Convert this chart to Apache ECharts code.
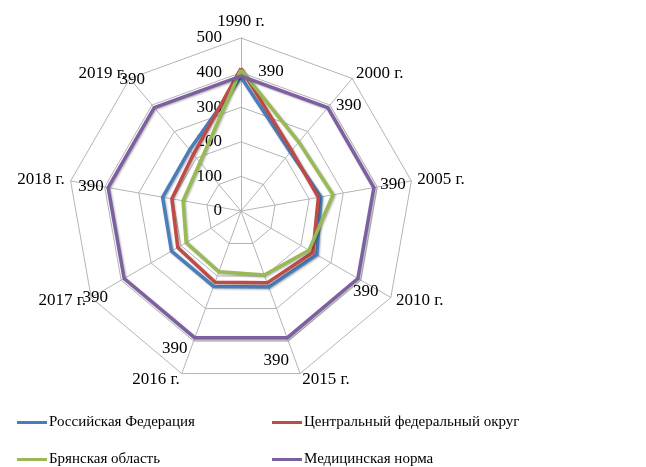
<!DOCTYPE html>
<html>
<head>
<meta charset="utf-8">
<script src="https://cdn.jsdelivr.net/npm/echarts@6/dist/echarts.min.js"></script>
<style>
  html, body { margin: 0; padding: 0; background: #fff; }
  #main { width: 646px; height: 467px; }
</style>
</head>
<body>
<div id="main"></div>
<script>
// years on the radar, clockwise from the top
const years = ['1990 г.', '2000 г.', '2005 г.', '2010 г.', '2015 г.', '2016 г.', '2017 г.', '2018 г.', '2019 г.'];
const seriesNames = ['Российская Федерация', 'Центральный федеральный округ', 'Брянская область', 'Медицинская норма'];
const russia = [387, 222, 235, 253, 234, 232, 232, 230, 231];
const central = [412, 228, 227, 240, 221, 219, 211, 203, 214];
const bryansk = [408, 260, 270, 227, 197, 187, 183, 170, 184];
const norm = [390, 390, 390, 390, 390, 390, 390, 390, 390];
const colors = ['#4a7ebb', '#be4b48', '#98b954', '#7d60a0'];

// label nudges for the "390" values (px)
const normLabelOffsets = [[30, -5], [21, -2], [19, -3], [8, 13], [-11, 23], [-20, 11], [-29, 19], [-17, -1], [-22, -28]];

// echarts radar runs counter-clockwise, so flip everything after the first item
const ccw = (arr) => [arr[0]].concat(arr.slice(1).reverse());

const FONT = '"Liberation Serif", "Times New Roman", serif';
const CX = 241, CY = 211, R = 173;

const chart = echarts.init(document.getElementById('main'));

const indicators = ccw(years).map((y, i) => {
    const ind = { name: y, min: 0, max: 500 };
    if (i === 0) ind.axisLabel = { show: true };
    return ind;
});

const radarSeries = [russia, central, bryansk, norm].map((vals, i) => ({
    type: 'radar',
    name: seriesNames[i],
    radarIndex: 0,
    symbol: 'none',
    z: 2 + i,
    lineStyle: {
        width: 3.5,
        color: colors[i],
        shadowColor: 'rgba(0,0,0,0.3)',
        shadowBlur: 2,
        shadowOffsetX: 1,
        shadowOffsetY: 1
    },
    itemStyle: { color: colors[i] },
    data: [{ value: ccw(vals), name: seriesNames[i] }]
}));

const legendPos = [[17, 415], [272, 415], [17, 452], [272, 452]];

const option = {
    animation: false,
    color: colors,
    textStyle: { fontFamily: FONT },
    legend: seriesNames.map((n, i) => ({
        data: [n],
        left: legendPos[i][0],
        top: legendPos[i][1],
        padding: 0,
        icon: 'rect',
        itemWidth: 30,
        itemHeight: 3,
        itemStyle: { borderWidth: 0 },
        selectedMode: false,
        textStyle: { fontFamily: FONT, fontSize: 15, color: '#000', padding: [0, 0, 0, -3] }
    })),
    radar: {
        center: [CX, CY],
        radius: R,
        startAngle: 90,
        splitNumber: 5,
        shape: 'polygon',
        indicator: indicators,
        axisName: { color: '#000', fontFamily: FONT, fontSize: 17 },
        nameGap: 6,
        axisLine: { lineStyle: { color: '#b4b4b4', width: 1 } },
        splitLine: { lineStyle: { color: '#b4b4b4', width: 1 } },
        splitArea: { show: false },
        axisTick: { show: false },
        axisLabel: { show: false, color: '#000', fontFamily: FONT, fontSize: 17, margin: 19 }
    },
    // invisible polar system matching the radar, used only to place the "390" labels
    polar: { center: [CX, CY], radius: [0, R] },
    angleAxis: {
        type: 'category',
        data: years,
        boundaryGap: true,
        startAngle: 110,
        clockwise: true,
        show: false
    },
    radiusAxis: { type: 'value', min: 0, max: 500, show: false },
    series: radarSeries.concat([{
        type: 'scatter',
        coordinateSystem: 'polar',
        symbolSize: 0,
        silent: true,
        z: 10,
        itemStyle: { opacity: 1 },
        label: {
            show: true,
            position: 'inside',
            color: '#000',
            fontFamily: FONT,
            fontSize: 17
        },
        data: norm.map((v, i) => ({ value: v, label: { offset: normLabelOffsets[i] } }))
    }])
};

chart.setOption(option);
</script>
</body>
</html>
